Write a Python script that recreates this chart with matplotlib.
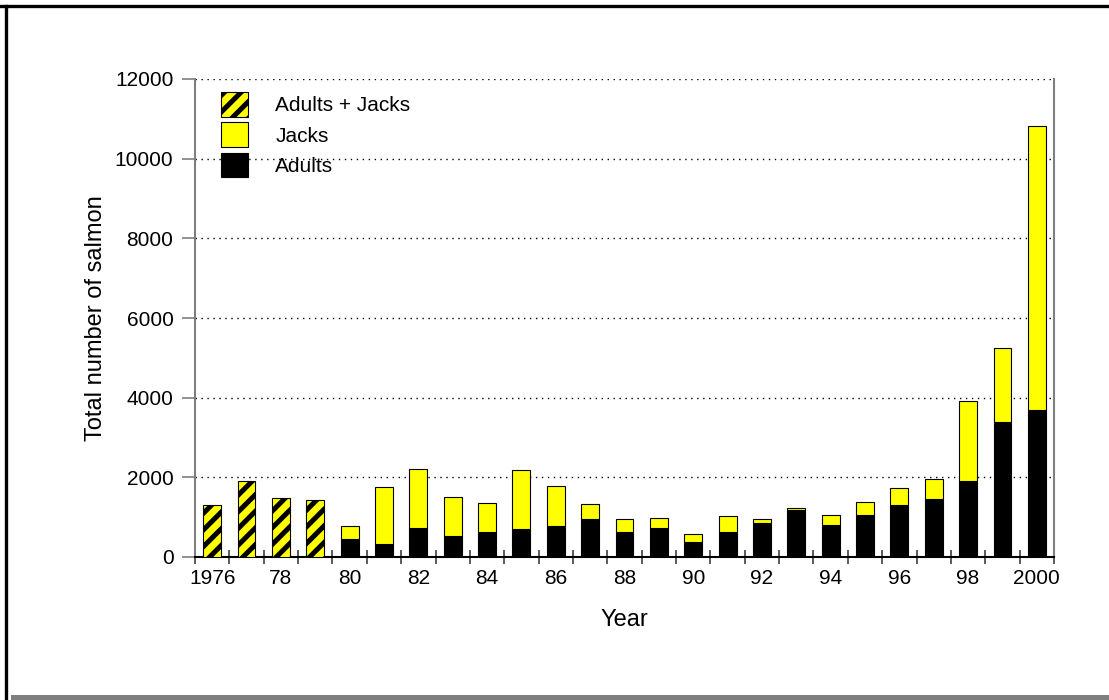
import matplotlib
matplotlib.use("Agg")
import matplotlib.pyplot as plt
from matplotlib.patches import Patch, Rectangle
from matplotlib.lines import Line2D

plt.rcParams["font.family"] = ["Liberation Sans", "DejaVu Sans"]
plt.rcParams["hatch.linewidth"] = 3.6

# early years: only combined counts (adults + jacks)
combined_years = [1976, 1977, 1978, 1979]
combined = [1300, 1915, 1480, 1430]

years = [1980, 1981, 1982, 1983, 1984, 1985, 1986, 1987, 1988, 1989, 1990,
         1991, 1992, 1993, 1994, 1995, 1996, 1997, 1998, 1999, 2000]
adults = [460, 335, 730, 535, 625, 695, 780, 945, 625, 730, 385,
          625, 845, 1170, 805, 1060, 1315, 1465, 1915, 3390, 3700]
jacks = [320, 1415, 1470, 980, 740, 1495, 1010, 395, 320, 250, 185,
         395, 110, 50, 240, 310, 415, 490, 1990, 1845, 7130]

label_years = list(range(1976, 2001, 2))
label_text = ["1976", "78", "80", "82", "84", "86", "88", "90", "92", "94",
              "96", "98", "2000"]
yticks = [0, 2000, 4000, 6000, 8000, 10000, 12000]

YELLOW = "#ffff00"
GRAY = "#7f7f7f"


def main():
    fig = plt.figure(figsize=(11.09, 7.0), dpi=100)
    ax = fig.add_axes([195 / 1109, 143 / 700, 859 / 1109, 478 / 700])

    w = 0.52
    ax.bar(combined_years, combined, width=w, color=YELLOW, edgecolor="black",
           linewidth=0.8, hatch="//", zorder=3)
    ax.bar(years, adults, width=w, color="black", edgecolor="black",
           linewidth=0.8, zorder=3)
    ax.bar(years, jacks, bottom=adults, width=w, color=YELLOW,
           edgecolor="black", linewidth=0.8, zorder=3)

    ax.set_xlim(1975.5, 2000.5)
    ax.set_ylim(0, 12000)

    ax.set_xticks(label_years)
    ax.set_xticklabels(label_text, fontsize=15)
    ax.set_xticks([y + 0.5 for y in range(1975, 2001)], minor=True)
    ax.tick_params(axis="x", which="major", length=0, pad=9)
    ax.tick_params(axis="x", which="minor", direction="inout", length=10,
                   width=1.2, color="#404040")

    ax.set_yticks(yticks)
    ax.set_yticklabels([str(v) for v in yticks], fontsize=15)
    ax.tick_params(axis="y", direction="out", length=9.5, width=1.2,
                   color=GRAY, pad=6)

    ax.yaxis.grid(True, color="black", linestyle=(0, (1, 3.3)), linewidth=1)
    ax.set_axisbelow(True)

    ax.spines["top"].set_visible(False)
    ax.spines["left"].set_color(GRAY)
    ax.spines["left"].set_linewidth(1.5)
    ax.spines["right"].set_color(GRAY)
    ax.spines["right"].set_linewidth(1.5)
    ax.spines["bottom"].set_color("black")
    ax.spines["bottom"].set_linewidth(1.5)

    ax.set_xlabel("Year", fontsize=17, labelpad=15)
    ax.set_ylabel("Total number of salmon", fontsize=17, labelpad=6)

    handles = [
        Patch(facecolor=YELLOW, edgecolor="black", hatch="//", linewidth=0.8),
        Patch(facecolor=YELLOW, edgecolor="black", linewidth=0.8),
        Patch(facecolor="black", edgecolor="black", linewidth=0.8),
    ]
    fig.legend(handles, ["Adults + Jacks", "Jacks", "Adults"],
               loc="upper left", bbox_to_anchor=(221 / 1109, 1 - 92 / 700),
               frameon=False, fontsize=15, handlelength=1.3,
               handleheight=1.45, handletextpad=1.3, labelspacing=0.27,
               borderpad=0, borderaxespad=0)

    # outer frame
    fig.add_artist(Line2D([0, 1], [1 - 6 / 700, 1 - 6 / 700],
                          transform=fig.transFigure, color="black", lw=2.4))
    fig.add_artist(Line2D([5.5 / 1109, 5.5 / 1109], [0, 1 - 6 / 700],
                          transform=fig.transFigure, color="black", lw=2.4))
    fig.add_artist(Rectangle((11 / 1109, 0), 1, 5 / 700,
                             transform=fig.transFigure, color=GRAY, lw=0))

    fig.savefig("out.png", dpi=100)
    plt.close(fig)


if __name__ == "__main__":
    main()
